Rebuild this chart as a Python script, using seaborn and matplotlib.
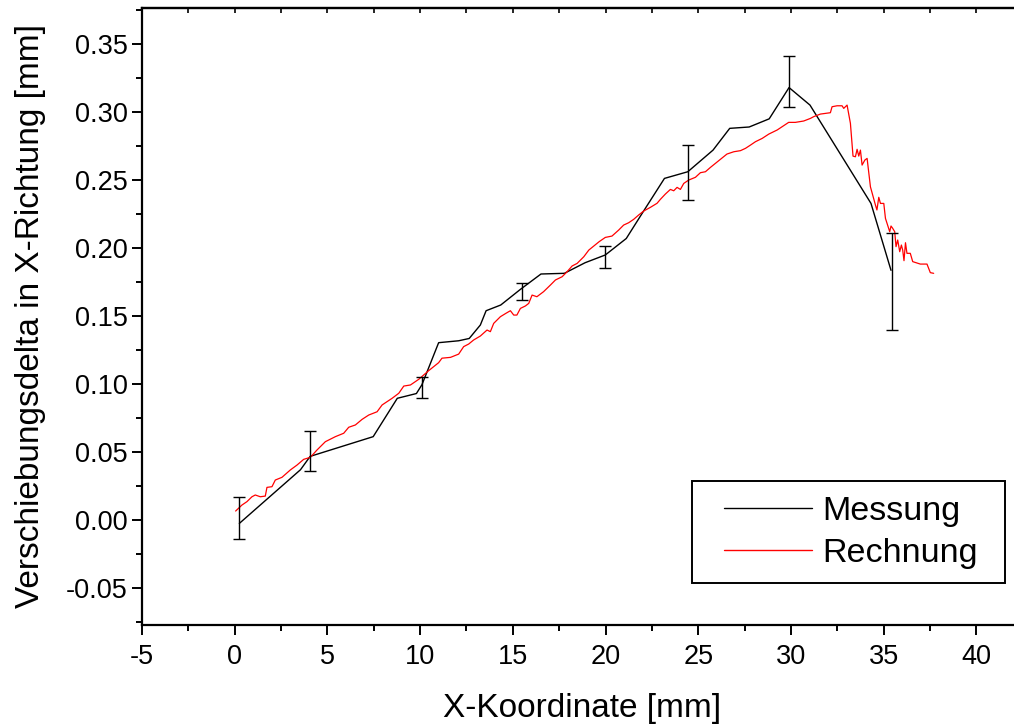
import matplotlib
matplotlib.use("Agg")
import matplotlib.pyplot as plt
from matplotlib.patches import Rectangle
from matplotlib.ticker import MultipleLocator, FormatStrFormatter
import numpy as np
import pandas as pd
import seaborn as sns

# Messung: measured displacement delta along the x coordinate
mess_x = [0.25, 3.55, 4.07, 7.47, 8.77, 9.80, 10.10, 11.00, 12.08, 12.65, 13.25,
          13.56, 14.35, 15.41, 16.52, 17.78, 18.90, 19.99, 21.12, 22.00, 23.18,
          24.44, 25.80, 26.70, 27.75, 28.83, 29.90, 31.03, 34.32, 35.40]
mess_y = [-0.0025, 0.0370, 0.0468, 0.0613, 0.0895, 0.0930, 0.0995, 0.1304, 0.1318,
          0.1335, 0.1434, 0.1539, 0.1581, 0.1696, 0.1809, 0.1814, 0.1892, 0.1949,
          0.2070, 0.2260, 0.2512, 0.2561, 0.2720, 0.2880, 0.2890, 0.2950, 0.3180,
          0.3051, 0.2328, 0.1836]

# Scatter range of the measurements (lower / upper bound)
err_x = [0.25, 4.07, 10.10, 15.48, 19.99, 24.46, 29.90, 35.45]
err_lo = [-0.0142, 0.0360, 0.0900, 0.1620, 0.1850, 0.2350, 0.3034, 0.1400]
err_hi = [0.0167, 0.0655, 0.1050, 0.1740, 0.2015, 0.2757, 0.3410, 0.2110]

# Rechnung: computed displacement delta
calc_x = [0.05, 0.39, 0.66, 0.93, 1.11, 1.38, 1.65, 1.74, 2.01, 2.19, 2.55, 3.00,
          3.36, 3.72, 4.08, 4.44, 4.89, 5.43, 5.88, 6.15, 6.51, 6.87, 7.23, 7.68,
          7.95, 8.49, 8.85, 9.12, 9.48, 9.93, 10.46, 11.00, 11.18, 11.64, 12.08,
          12.35, 12.62, 12.89, 13.25, 13.61, 13.79, 13.97, 14.33, 14.63, 14.87,
          15.05, 15.22, 15.41, 15.68, 15.86, 16.04, 16.30, 16.66, 17.03, 17.30,
          17.66, 17.93, 18.20, 18.47, 18.83, 19.10, 19.66, 19.99, 20.35, 20.71,
          20.98, 21.25, 21.52, 21.79, 22.06, 22.42, 22.78, 22.96, 23.23, 23.50,
          23.68, 23.86, 24.04, 24.22, 24.49, 24.85, 25.12, 25.39, 25.66, 25.93,
          26.20, 26.55, 26.92, 27.28, 27.55, 27.82, 28.09, 28.45, 28.81, 29.26,
          29.88, 30.24, 30.69, 31.05, 31.23, 31.59, 31.86, 32.13, 32.22, 32.49,
          32.76, 32.85, 33.03, 33.21, 33.35, 33.48, 33.57, 33.66, 33.75, 33.84,
          33.99, 34.11, 34.29, 34.41, 34.56, 34.64, 34.74, 34.83, 35.01, 35.10,
          35.24, 35.33, 35.40, 35.49, 35.60, 35.67, 35.76, 35.87, 35.96, 36.03,
          36.10, 36.18, 36.26, 36.44, 36.57, 36.98, 37.34, 37.52, 37.70]
calc_y = [0.0066, 0.0110, 0.0135, 0.0171, 0.0184, 0.0171, 0.0176, 0.0240, 0.0245,
          0.0294, 0.0314, 0.0368, 0.0404, 0.0446, 0.0461, 0.0515, 0.0576, 0.0613,
          0.0638, 0.0682, 0.0699, 0.0740, 0.0772, 0.0796, 0.0846, 0.0895, 0.0932,
          0.0985, 0.0993, 0.1035, 0.1098, 0.1157, 0.1190, 0.1196, 0.1220, 0.1275,
          0.1294, 0.1324, 0.1353, 0.1397, 0.1385, 0.1446, 0.1495, 0.1520, 0.1539,
          0.1507, 0.1507, 0.1556, 0.1574, 0.1593, 0.1654, 0.1642, 0.1679, 0.1728,
          0.1765, 0.1789, 0.1826, 0.1868, 0.1887, 0.1936, 0.1985, 0.2047, 0.2078,
          0.2088, 0.2132, 0.2169, 0.2186, 0.2211, 0.2243, 0.2272, 0.2299, 0.2329,
          0.2358, 0.2397, 0.2431, 0.2421, 0.2446, 0.2431, 0.2475, 0.2500, 0.2520,
          0.2554, 0.2561, 0.2593, 0.2623, 0.2652, 0.2691, 0.2708, 0.2716, 0.2733,
          0.2757, 0.2782, 0.2806, 0.2838, 0.2868, 0.2924, 0.2924, 0.2934, 0.2953,
          0.2966, 0.2985, 0.2990, 0.2995, 0.3039, 0.3046, 0.3046, 0.3027, 0.3051,
          0.2917, 0.2676, 0.2671, 0.2726, 0.2676, 0.2720, 0.2610, 0.2647, 0.2659,
          0.2450, 0.2390, 0.2316, 0.2280, 0.2373, 0.2328, 0.2328, 0.2218, 0.2157,
          0.2120, 0.2162, 0.2145, 0.2120, 0.2010, 0.2059, 0.1973, 0.2022, 0.1985,
          0.1907, 0.2039, 0.1961, 0.1961, 0.1900, 0.1882, 0.1882, 0.1819, 0.1814]

x_ticks = [-5, 0, 5, 10, 15, 20, 25, 30, 35, 40]
y_ticks = [-0.05, 0.00, 0.05, 0.10, 0.15, 0.20, 0.25, 0.30, 0.35]

sns.set_style("ticks")
plt.rcParams["font.family"] = ["Liberation Sans", "DejaVu Sans"]
plt.rcParams["axes.unicode_minus"] = False
plt.rcParams["text.color"] = "black"
plt.rcParams["axes.labelcolor"] = "black"
plt.rcParams["xtick.color"] = "black"
plt.rcParams["ytick.color"] = "black"

W, H = 1014, 727
X_MIN, X_MAX = -5, 42.5
fig = plt.figure(figsize=(W / 100, H / 100), dpi=100)
ax = fig.add_axes([142 / W, 102 / H, (X_MAX - X_MIN) * 18.54 / W, 617 / H])

df_m = pd.DataFrame({"x": mess_x, "y": mess_y})
df_c = pd.DataFrame({"x": calc_x, "y": calc_y})

sns.lineplot(data=df_m, x="x", y="y", ax=ax, color="black", lw=1.0,
             sort=False, estimator=None, label="Messung")
sns.lineplot(data=df_c, x="x", y="y", ax=ax, color="#ff0000", lw=0.9,
             sort=False, estimator=None, label="Rechnung")

lo = np.array(err_lo)
hi = np.array(err_hi)
ax.errorbar(err_x, (lo + hi) / 2, yerr=(hi - lo) / 2, fmt="none",
            ecolor="black", elinewidth=1.0, capsize=4.5, capthick=1.0, zorder=3)

ax.set_xlim(X_MIN, X_MAX)
ax.set_ylim(-0.0772, 0.3765)
ax.set_xticks(x_ticks)
ax.set_yticks(y_ticks)
ax.xaxis.set_minor_locator(MultipleLocator(2.5))
ax.yaxis.set_minor_locator(MultipleLocator(0.025))
ax.yaxis.set_major_formatter(FormatStrFormatter("%.2f"))

for s in ax.spines.values():
    s.set_linewidth(1.6)
    s.set_color("black")

ax.tick_params(axis="both", which="major", direction="out", length=7.5,
               width=1.4, labelsize=19.5, colors="black")
ax.tick_params(axis="both", which="minor", direction="out", length=4.5,
               width=1.4, colors="black")
ax.tick_params(axis="x", which="major", pad=6)
ax.tick_params(axis="y", which="major", pad=3)

top = ax.secondary_xaxis("top")
top.set_xticks(x_ticks)
top.xaxis.set_minor_locator(MultipleLocator(2.5))
top.tick_params(axis="x", which="both", direction="in", length=3.5, width=1.2,
                labeltop=False)
top.spines["top"].set_linewidth(1.6)

ax.set_xlabel("X-Koordinate [mm]", fontsize=24, labelpad=17, color="black")
ax.set_ylabel("Verschiebungsdelta in X-Richtung [mm]", fontsize=24,
              labelpad=14, color="black")

# Square legend box, drawn as an axes patch beneath the legend entries
box = Rectangle((692 / W, 1 - 583 / H), (1005 - 692) / W, (583 - 481) / H,
                transform=fig.transFigure, facecolor="white", edgecolor="black",
                linewidth=1.4, zorder=6, clip_on=False)
ax.add_patch(box)

leg = ax.legend(loc="upper left", bbox_to_anchor=(724 / W, 1 - 496 / H),
                bbox_transform=fig.transFigure, fontsize=24.5, frameon=False,
                handlelength=2.6, handletextpad=0.3, borderpad=0.0,
                labelspacing=0.31, borderaxespad=0)
leg.set_zorder(7)
for h in leg.get_lines():
    h.set_linewidth(1.0)
for t in leg.get_texts():
    t.set_color("black")

fig.savefig("out.png", dpi=100)
